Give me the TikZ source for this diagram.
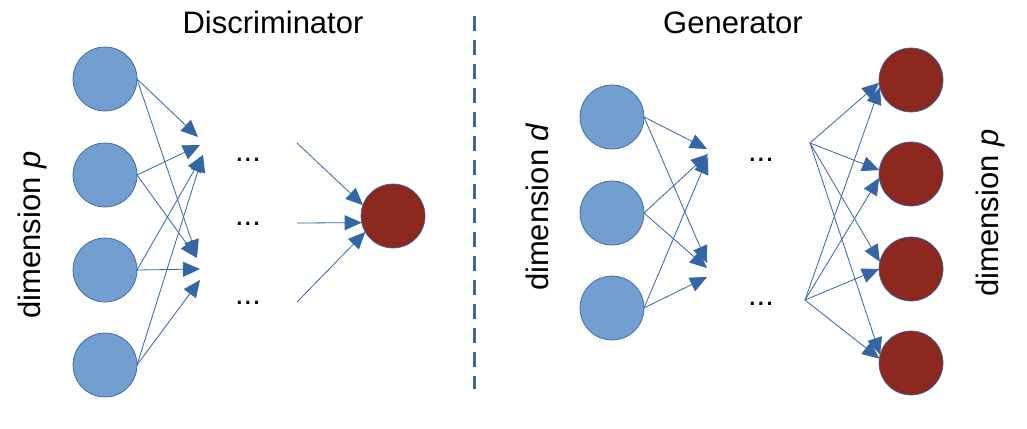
\documentclass[tikz,border=0pt]{standalone}
\usepackage{fontspec}
\setmainfont{Liberation Sans}
\usetikzlibrary{arrows.meta}
\definecolor{unitblue}{RGB}{114,159,207}
\definecolor{lineblue}{RGB}{52,101,164}
\definecolor{unitred}{RGB}{141,40,30}
\definecolor{dashblue}{RGB}{62,104,150}
\tikzset{
  bluenode/.style={circle, draw=lineblue, line width=0.7pt, fill=unitblue,
    minimum size=64pt, inner sep=0pt, outer sep=0pt},
  rednode/.style={bluenode, fill=unitred},
  conn/.style={draw=lineblue, line width=0.8pt, -{Triangle[length=17pt,width=15pt]}},
  lbl/.style={font=\fontsize{31}{37}\selectfont, inner sep=0pt, anchor=base},
}
\begin{document}
\begin{tikzpicture}[x=1pt, y=-1pt]
  \useasboundingbox (0,0) rectangle (1027,428);

  % discriminator
  \node [bluenode] (p1) at (105,79) {};
  \node [bluenode] (p2) at (105,175) {};
  \node [bluenode] (p3) at (105,270) {};
  \node [bluenode] (p4) at (105,365) {};
  \coordinate (hu) at (201,147);
  \coordinate (hl) at (200,268);
  \draw [conn] (p1.east) -- ([xshift=-3pt,yshift=10pt]hu);
  \draw [conn] (p2.east) -- ([xshift=-1pt,yshift=2pt]hu);
  \draw [conn] (p3.east) -- ([xshift=2pt,yshift=-8pt]hu);
  \draw [conn] (p4.east) -- ([xshift=2pt,yshift=-8pt]hu);
  \draw [conn] (p1.east) -- ([xshift=-3pt,yshift=11pt]hl);
  \draw [conn] (p2.east) -- ([xshift=-3pt,yshift=10pt]hl);
  \draw [conn] (p3.east) -- ([yshift=-1pt]hl);
  \draw [conn] (p4.east) -- ([yshift=-12pt]hl);

  \node [lbl] (ldots1) at (248,161) {...};
  \node [lbl] (ldots2) at (248,225) {...};
  \node [lbl] (ldots3) at (248,304) {...};

  \node [rednode] (o) at (393,216) {};
  \coordinate (a1) at (297,143);
  \coordinate (a2) at (297,223);
  \coordinate (a3) at (297,302);
  \draw [conn] (a1) -- (o.160);
  \draw [conn] (a2) -- (o.192);
  \draw [conn] (a3) -- (o.210);

  \node [lbl] (dtitle) at (273,34) {Discriminator};
  \node [lbl, rotate=90] (dimp) at (40,235) {dimension \textit{p}};

  % separator
  \coordinate (cuttop) at (474,16);
  \coordinate (cutbot) at (474,389);
  \draw [dashblue, line width=3pt, dash pattern=on 15pt off 9pt] (cuttop) -- (cutbot);

  % generator
  \node [bluenode] (g1) at (612,117) {};
  \node [bluenode] (g2) at (612,213) {};
  \node [bluenode] (g3) at (612,308) {};
  \coordinate (gu) at (707,150);
  \coordinate (gl) at (707,268);
  \draw [conn] (g1.east) -- ([yshift=1pt]gu);
  \draw [conn] (g2.east) -- ([xshift=1pt,yshift=-4pt]gu);
  \draw [conn] (g3.east) -- ([xshift=1pt,yshift=-7pt]gu);
  \draw [conn] (g1.east) -- ([yshift=5pt]gl);
  \draw [conn] (g2.east) -- (gl);
  \draw [conn] (g3.east) -- ([yshift=-9pt]gl);

  \node [lbl] (rdots1) at (761,161) {...};
  \node [lbl] (rdots2) at (761,305) {...};

  \node [rednode] (q1) at (911,80) {};
  \node [rednode] (q2) at (911,174) {};
  \node [rednode] (q3) at (911,269) {};
  \node [rednode] (q4) at (911,363) {};
  \coordinate (s1) at (810,143);
  \coordinate (s2) at (805,300);
  \draw [conn] (s1) -- (q1.185);
  \draw [conn] (s1) -- (q2.173);
  \draw [conn] (s1) -- (q3.167);
  \draw [conn] (s1) -- (q4.165);
  \draw [conn] (s2) -- (q1.193);
  \draw [conn] (s2) -- (q2.187);
  \draw [conn] (s2) -- (q3.180);
  \draw [conn] (s2) -- (q4.172);

  \node [lbl] (gtitle) at (733,34) {Generator};
  \node [lbl, rotate=90] (dimd) at (548,207) {dimension \textit{d}};
  \node [lbl, rotate=90] (dimq) at (998,213) {dimension \textit{p}};
\end{tikzpicture}
\end{document}
